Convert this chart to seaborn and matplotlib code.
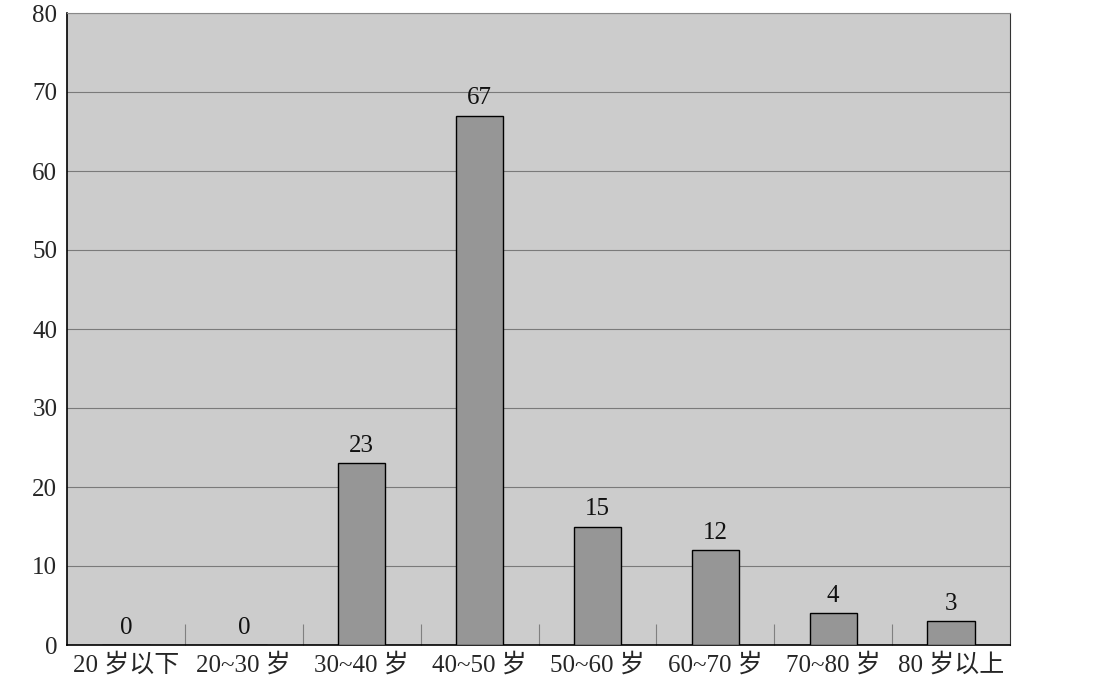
import numpy as np
import pandas as pd
import matplotlib
matplotlib.use("Agg")
import matplotlib.pyplot as plt
import seaborn as sns

# ------------------------------------------------------------
# Data
# ------------------------------------------------------------
age_groups = ["20 岁以下", "20~30 岁", "30~40 岁", "40~50 岁",
              "50~60 岁", "60~70 岁", "70~80 岁", "80 岁以上"]
counts = [0, 0, 23, 67, 15, 12, 4, 3]
y_ticks = [0, 10, 20, 30, 40, 50, 60, 70, 80]

df = pd.DataFrame({"group": age_groups, "count": counts})

# ------------------------------------------------------------
# Style
# ------------------------------------------------------------
sns.set_style("white")
plt.rcParams["font.family"] = ["Liberation Serif", "Noto Sans CJK SC"]

fig = plt.figure(figsize=(11.02, 6.94), dpi=100)
ax = fig.add_axes([67 / 1102, 1 - 645 / 694, (1010 - 67) / 1102, (645 - 13) / 694])
ax.set_facecolor("#cccccc")

sns.barplot(data=df, x="group", y="count", color="#969696",
            edgecolor="black", linewidth=1.0, width=0.4, saturation=1,
            ax=ax, zorder=3)

# value labels
for i, v in enumerate(counts):
    ax.text(i, v + 0.8, str(v), ha="center", va="bottom", fontsize=18,
            color="#111111", zorder=4)

ax.set_ylim(0, 80)
ax.set_xlim(-0.5, len(age_groups) - 0.5)
ax.set_yticks(y_ticks)
ax.yaxis.grid(True, color="#7a7a7a", linewidth=0.8)
ax.set_axisbelow(True)

# boundary ticks between categories
ax.set_xticks(np.arange(len(age_groups)))
ax.set_xticklabels(age_groups, fontsize=18)
ax.set_xticks(np.arange(len(age_groups) - 1) + 0.5, minor=True)
ax.tick_params(axis="x", which="major", length=0, pad=6)
ax.tick_params(axis="x", which="minor", bottom=True, direction="in",
               length=15, color="#808080", width=0.8)
ax.tick_params(axis="y", length=0, labelsize=18, pad=7)

ax.set_xlabel("")
ax.set_ylabel("")

for side in ["left", "bottom"]:
    ax.spines[side].set_color("black")
    ax.spines[side].set_linewidth(1.2)
ax.spines["right"].set_color("#333333")
ax.spines["top"].set_color("#888888")

fig.savefig("out.png", dpi=100)
